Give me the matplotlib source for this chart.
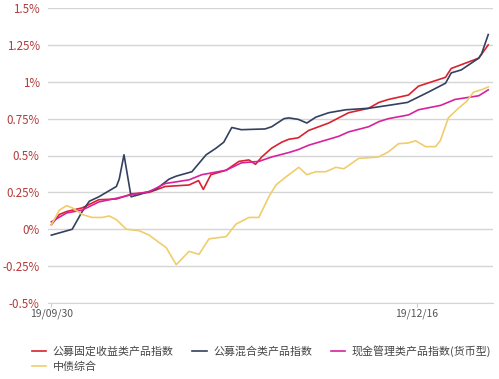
import matplotlib
matplotlib.use("Agg")
import matplotlib.pyplot as plt

plt.rcParams['font.family'] = ['Noto Sans CJK SC', 'DejaVu Sans']

# x positions are day offsets from 2019-09-30
tick_days = [0, 77]
tick_labels = ['19/09/30', '19/12/16']
y_ticks = [-0.5, -0.25, 0, 0.25, 0.5, 0.75, 1.0, 1.25, 1.5]
y_tick_labels = ['-0.5%', '-0.25%', '0%', '0.25%', '0.5%', '0.75%', '1%', '1.25%', '1.5%']

names = ['公募固定收益类产品指数', '公募混合类产品指数', '现金管理类产品指数(货币型)', '中债综合']

fixed_days = [0, 1.7, 3.2, 6.5, 10, 13.7, 17, 20.6, 24, 29, 31, 32, 33.6, 36.8, 39.5, 41.6, 43,
              44.3, 46.4, 48.5, 50, 52, 54.2, 58.4, 60.5, 62.6, 66.8, 69, 71, 75.2, 77.3, 83, 84.2,
              90, 92]
fixed_vals = [0.03, 0.10, 0.12, 0.145, 0.20, 0.205, 0.24, 0.25, 0.29, 0.30, 0.33, 0.27, 0.37,
              0.40, 0.46, 0.47, 0.44, 0.49, 0.55, 0.59, 0.61, 0.62, 0.67, 0.72, 0.755, 0.79, 0.82,
              0.86, 0.88, 0.91, 0.97, 1.03, 1.09, 1.16, 1.25]

mixed_days = [0, 4.4, 6.5, 8, 10, 13.7, 14.3, 15.3, 16.8, 18.5, 22, 24.8, 26.3, 29.6, 32.6, 34.7,
              36.3, 38, 40, 45, 46.4, 49, 50, 52, 53.8, 55.7, 58.4, 62, 66.8, 71, 75, 79.4, 83,
              84.2, 86.3, 90, 90.6, 92]
mixed_vals = [-0.04, 0.0, 0.12, 0.19, 0.22, 0.29, 0.34, 0.505, 0.22, 0.235, 0.27, 0.34, 0.36, 0.39,
              0.505, 0.55, 0.59, 0.69, 0.675, 0.68, 0.695, 0.75, 0.755, 0.745, 0.72, 0.76, 0.79,
              0.81, 0.82, 0.84, 0.86, 0.93, 0.99, 1.06, 1.08, 1.16, 1.19, 1.32]

cash_days = [0, 3.2, 6.5, 10, 13.7, 17, 20.6, 24, 29, 31.7, 36.8, 40, 43.7, 46.4, 50, 52, 54.2,
             58.4, 60.5, 62.6, 66.8, 69, 71, 75.2, 77.3, 82, 85, 90, 92]
cash_vals = [0.05, 0.11, 0.13, 0.185, 0.21, 0.235, 0.255, 0.31, 0.335, 0.37, 0.40, 0.45, 0.46,
             0.49, 0.52, 0.54, 0.57, 0.61, 0.63, 0.66, 0.695, 0.73, 0.75, 0.775, 0.81, 0.84, 0.88,
             0.905, 0.945]

bond_days = [0, 1.7, 3.2, 4.4, 6.5, 8.6, 10.7, 12.2, 13.7, 15.8, 18.5, 20.6, 22.7, 24.2, 26.3, 29,
             31.1, 33.2, 36.8, 38.9, 41.6, 43.7, 45.8, 47.3, 49.4, 52.1, 53.8, 55.7, 57.8, 59.9,
             61.6, 64.7, 68.9, 71, 73.1, 75.2, 76.7, 78.8, 80.9, 81.9, 83.6, 85.7, 87.4, 88.9,
             90.5, 92]
bond_vals = [0.03, 0.13, 0.16, 0.145, 0.10, 0.08, 0.08, 0.09, 0.065, 0.0, -0.01, -0.04, -0.09,
             -0.125, -0.24, -0.15, -0.17, -0.065, -0.05, 0.035, 0.08, 0.08, 0.22, 0.30, 0.355,
             0.42, 0.37, 0.39, 0.39, 0.42, 0.41, 0.48, 0.49, 0.525, 0.58, 0.585, 0.60, 0.56, 0.56,
             0.60, 0.755, 0.82, 0.865, 0.93, 0.945, 0.965]

colors = ['#d8232f', '#34405f', '#d6229c', '#f0cd6c']

fig = plt.figure(figsize=(4.99, 3.79), dpi=100)
ax = fig.add_axes([48 / 499, 1 - 303 / 379, (493 - 48) / 499, (303 - 8) / 379])

series = [(fixed_days, fixed_vals), (mixed_days, mixed_vals), (cash_days, cash_vals),
          (bond_days, bond_vals)]
order = [3, 2, 0, 1]
for i in order:
    d, v = series[i]
    ax.plot(d, v, color=colors[i], lw=1.2, label=names[i], zorder=3 + i,
            solid_joinstyle='round')

ax.set_ylim(-0.5, 1.5)
ax.set_xlim(-0.7, 93)
ax.set_yticks(y_ticks)
ax.set_yticklabels(y_tick_labels, color='#b23a3a', fontsize=8.3)
ax.set_xticks(tick_days)
ax.set_xticklabels(tick_labels, color='#555555', fontsize=7.5)
ax.grid(axis='y', color='#d5d5d5', lw=1)
ax.set_axisbelow(True)
for s in ['top', 'right', 'left']:
    ax.spines[s].set_visible(False)
ax.spines['bottom'].set_color('#d5d5d5')
ax.tick_params(axis='y', length=0, pad=6)
ax.tick_params(axis='x', length=3, color='#cccccc', pad=1)

handles, labels = ax.get_legend_handles_labels()
hmap = dict(zip(labels, handles))
# column-wise fill: col1 = fixed, bond; col2 = mixed; col3 = cash
leg_order = [names[0], names[3], names[1], names[2]]
fig.legend([hmap[n] for n in leg_order], leg_order, loc='upper left',
           bbox_to_anchor=(32 / 499, 1 - 345 / 379), ncol=3, frameon=False,
           fontsize=7.9, handlelength=1.3, handletextpad=0.6, columnspacing=1.7,
           labelspacing=0.45, borderpad=0, borderaxespad=0, labelcolor='#444444')

fig.savefig('out.png', dpi=100)
